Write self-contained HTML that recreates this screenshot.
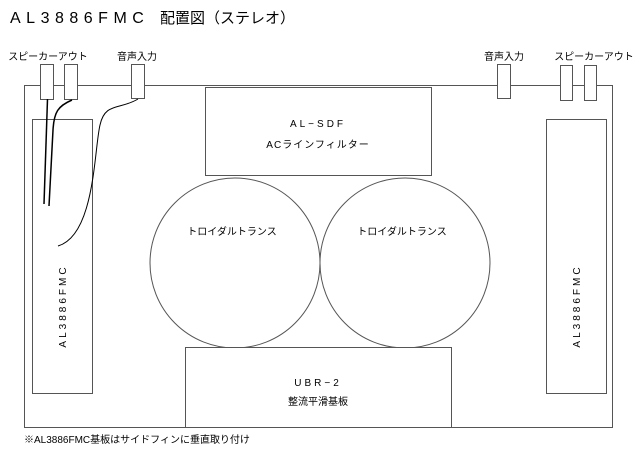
<!DOCTYPE html>
<html><head><meta charset="utf-8"><style>
body{margin:0;background:#fff;}
svg{display:block;font-family:"Liberation Sans","Noto Sans CJK JP",sans-serif;}
</style></head><body>
<svg width="640" height="452" viewBox="0 0 640 452" xmlns="http://www.w3.org/2000/svg">
<rect width="640" height="452" fill="#fff"/>
<text x="10" y="23" font-size="16" letter-spacing="5.5" fill="#000">AL3886FMC</text>
<text x="160" y="23" font-size="15" fill="#000">配置図（ステレオ）</text>
<g fill="none" stroke="#555" stroke-width="1">
<rect x="24.5" y="85.5" width="588" height="342"/>
<rect x="205.5" y="87.5" width="226" height="88"/>
<rect x="32.5" y="119.5" width="60" height="274"/>
<rect x="546.5" y="119.5" width="60" height="274"/>
<circle cx="235" cy="263" r="85"/>
<circle cx="405" cy="263" r="85"/>
<rect x="185.5" y="347.5" width="266" height="80" fill="#fff"/>
<rect x="40.5" y="64.5" width="13" height="35" fill="#fff"/>
<rect x="64.5" y="64.5" width="13" height="35" fill="#fff"/>
<rect x="131.5" y="64.5" width="13" height="34" fill="#fff"/>
<rect x="497.5" y="64.5" width="13" height="34" fill="#fff"/>
<rect x="560.5" y="65.5" width="12" height="35" fill="#fff"/>
<rect x="584.5" y="65.5" width="12" height="35" fill="#fff"/>
</g>
<g fill="none" stroke="#000">
<path d="M47.5 99 L44 204" stroke-width="1.5"/>
<path d="M72 100 C58 106 54 112 53 130 L49 206" stroke-width="1.5"/>
<path d="M138 99 C120 110 105 102 100 125 C94 150 95 235 58 246" stroke-width="1"/>
</g>
<g font-size="10" fill="#000" text-anchor="middle">
<text x="48" y="60">スピーカーアウト</text>
<text x="137" y="60">音声入力</text>
<text x="504" y="60">音声入力</text>
<text x="594" y="60">スピーカーアウト</text>
<text x="318" y="127" letter-spacing="3">AL−SDF</text>
<text x="318" y="148" letter-spacing="1">ACラインフィルター</text>
<text x="232" y="235">トロイダルトランス</text>
<text x="402" y="235">トロイダルトランス</text>
<text x="318" y="386" letter-spacing="3">UBR−2</text>
<text x="318" y="405">整流平滑基板</text>
<text transform="translate(66,306) rotate(-90)" letter-spacing="3">AL3886FMC</text>
<text transform="translate(580,306) rotate(-90)" letter-spacing="3">AL3886FMC</text>
</g>
<text x="24" y="443" font-size="10" fill="#000">※AL3886FMC基板はサイドフィンに垂直取り付け</text>
</svg>
</body></html>
